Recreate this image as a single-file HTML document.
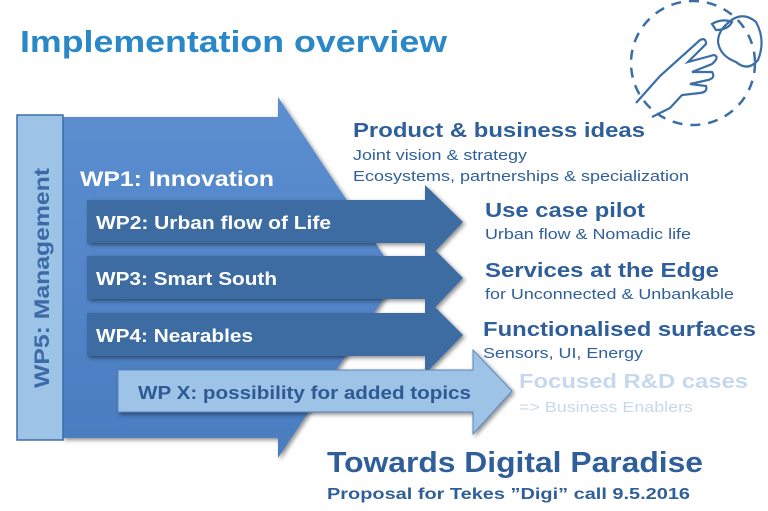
<!DOCTYPE html>
<html><head><style>body{margin:0;background:#fff}svg{display:block}</style></head>
<body>
<svg width="768" height="511" viewBox="0 0 768 511" font-family="Liberation Sans, sans-serif">
<defs>
<linearGradient id="big" x1="0" y1="0" x2="0" y2="1"><stop offset="0" stop-color="#5b8fd0"/><stop offset="1" stop-color="#4a7cc0"/></linearGradient>
<filter id="sh" x="-10%" y="-10%" width="130%" height="130%"><feDropShadow dx="2" dy="2" stdDeviation="2" flood-opacity="0.45"/></filter>
</defs>
<text x="20" y="52" font-size="31" font-weight="bold" fill="#2a87c8" textLength="427" lengthAdjust="spacingAndGlyphs">Implementation overview</text>
<!-- icon -->
<circle cx="693" cy="63" r="62" fill="none" stroke="#3a6ea5" stroke-width="2.5" stroke-dasharray="10 8"/>
<path d="M636 103 L660 76 L700 40 Q706 37 706 44 L688 62 L714 55 Q720 57 712 64 L692 72 L712 72 Q716 78 708 80 L690 84 L706 86 Q708 92 700 93 L682 95 L670 108 L652 117" fill="none" stroke="#3a6ea5" stroke-width="2.2"/>
<path d="M712 24 Q722 18 732 22 Q728 30 716 30 Z M723 28 Q740 8 756 22 Q766 40 758 60 Q748 72 736 62 Q720 56 718 42 Q718 34 723 28 Z" fill="none" stroke="#3a6ea5" stroke-width="2.2"/>
<!-- big arrow -->
<polygon points="62,117 278,117 278,97 398,277 278,458 278,438 62,438" fill="url(#big)" filter="url(#sh)"/>
<rect x="17" y="115" width="46" height="325" fill="#9dc3e6" stroke="#3a6ea5" stroke-width="1.5"/>
<text transform="translate(49,388) rotate(-90)" font-size="21" font-weight="bold" fill="#3b6aa6" textLength="220" lengthAdjust="spacingAndGlyphs">WP5: Management</text>
<text x="80" y="186" font-size="21" font-weight="bold" fill="#fff" textLength="194" lengthAdjust="spacingAndGlyphs">WP1: Innovation</text>
<g filter="url(#sh)" fill="#3e6ca3">
<polygon points="87,200 425,200 425,185 463,222 425,262 425,243 87,243"/>
<polygon points="87,256 425,256 425,240 463,278 425,318 425,299 87,299"/>
<polygon points="87,313 425,313 425,297 463,335 425,374 425,356 87,356"/>
</g>
<text x="96" y="229" font-size="18" font-weight="bold" fill="#fff" textLength="235" lengthAdjust="spacingAndGlyphs">WP2: Urban flow of Life</text>
<text x="96" y="285" font-size="18" font-weight="bold" fill="#fff" textLength="181" lengthAdjust="spacingAndGlyphs">WP3: Smart South</text>
<text x="96" y="342" font-size="18" font-weight="bold" fill="#fff" textLength="157" lengthAdjust="spacingAndGlyphs">WP4: Nearables</text>
<polygon points="118,370 473,370 473,350 512,391 473,434 473,412 118,412" fill="#9dc3e6" stroke="#5a86bd" stroke-width="1" filter="url(#sh)"/>
<text x="138" y="399" font-size="18" font-weight="bold" fill="#2f5a94" textLength="333" lengthAdjust="spacingAndGlyphs">WP X: possibility for added topics</text>
<!-- right text -->
<g fill="#2f5f9a">
<text x="353" y="137" font-size="20" font-weight="bold" textLength="292" lengthAdjust="spacingAndGlyphs">Product &amp; business ideas</text>
<text x="353" y="160" font-size="14.5" textLength="174" lengthAdjust="spacingAndGlyphs">Joint vision &amp; strategy</text>
<text x="353" y="181" font-size="14.5" textLength="336" lengthAdjust="spacingAndGlyphs">Ecosystems, partnerships &amp; specialization</text>
<text x="485" y="217" font-size="20" font-weight="bold" textLength="160" lengthAdjust="spacingAndGlyphs">Use case pilot</text>
<text x="485" y="239" font-size="14.5" textLength="206" lengthAdjust="spacingAndGlyphs">Urban flow &amp; Nomadic life</text>
<text x="485" y="277" font-size="20" font-weight="bold" textLength="234" lengthAdjust="spacingAndGlyphs">Services at the Edge</text>
<text x="485" y="299" font-size="14.5" textLength="249" lengthAdjust="spacingAndGlyphs">for Unconnected &amp; Unbankable</text>
<text x="483" y="336" font-size="20" font-weight="bold" textLength="273" lengthAdjust="spacingAndGlyphs">Functionalised surfaces</text>
<text x="483" y="358" font-size="14.5" textLength="160" lengthAdjust="spacingAndGlyphs">Sensors, UI, Energy</text>
<text x="327" y="472" font-size="29" font-weight="bold" textLength="376" lengthAdjust="spacingAndGlyphs">Towards Digital Paradise</text>
<text x="327" y="499" font-size="15.5" font-weight="bold" textLength="363" lengthAdjust="spacingAndGlyphs">Proposal for Tekes ”Digi” call 9.5.2016</text>
</g>
<text x="519" y="388" font-size="20" font-weight="bold" fill="#c5d8ee" textLength="229" lengthAdjust="spacingAndGlyphs">Focused R&amp;D cases</text>
<text x="519" y="412" font-size="14.5" fill="#c5d8ee" textLength="174" lengthAdjust="spacingAndGlyphs">=&gt; Business Enablers</text>
</svg>
</body></html>
